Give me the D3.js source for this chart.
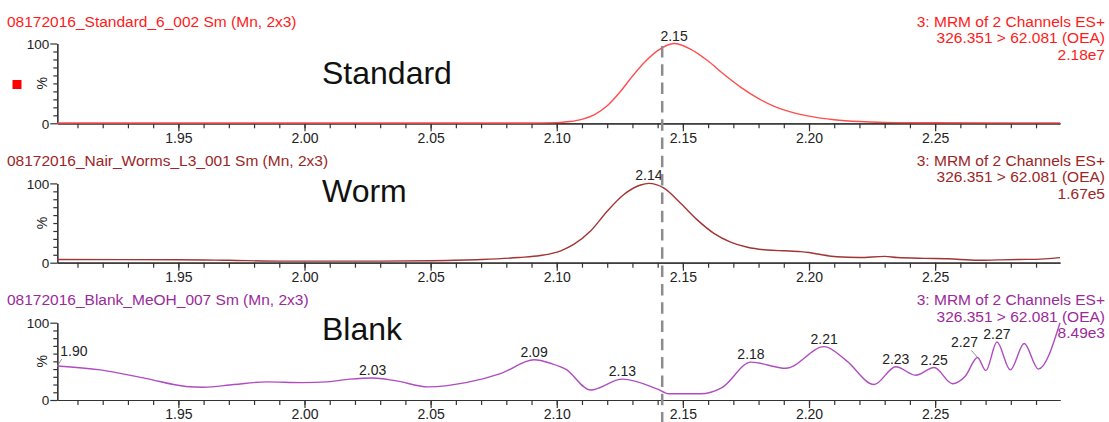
<!DOCTYPE html>
<html>
<head>
<meta charset="utf-8">
<script src="https://cdn.jsdelivr.net/npm/d3@7"></script>
<style>
  body { margin: 0; background: #fff; }
  svg { display: block; font-family: "Liberation Sans", Arial, sans-serif; }
</style>
</head>
<body>
<svg id="chart" width="1109" height="422"></svg>
<script>
// retention time (min) vs relative intensity (%)
const standardPoints = [
  [1.902, 0.3], [2.00, 0.3], [2.09, 0.4], [2.10, 0.9], [2.105, 2.2], [2.11, 5],
  [2.115, 11], [2.12, 22], [2.125, 39], [2.13, 59], [2.135, 77], [2.14, 91],
  [2.1465, 100], [2.153, 93], [2.16, 78], [2.166, 62], [2.173, 45], [2.18, 31],
  [2.186, 21.5], [2.193, 14], [2.20, 9], [2.21, 4.5], [2.22, 2.2], [2.23, 1.2],
  [2.25, 0.6], [2.2995, 0.5]
];
const wormPoints = [
  [1.902, 4], [1.95, 3.8], [1.97, 3], [1.99, 2], [2.03, 2], [2.05, 2.5], [2.07, 4],
  [2.085, 6.5], [2.0935, 9], [2.1016, 15], [2.1067, 23], [2.1134, 40], [2.12, 65],
  [2.1266, 86], [2.1332, 98], [2.1365, 100], [2.1425, 94], [2.1491, 75], [2.1557, 54],
  [2.1623, 37], [2.1689, 26], [2.1756, 19.5], [2.1835, 16], [2.19, 15], [2.1967, 14],
  [2.20, 12.8], [2.205, 10], [2.211, 7.5], [2.22, 6.5], [2.23, 8], [2.235, 6.5],
  [2.246, 5.5], [2.255, 5], [2.267, 3], [2.275, 3.5], [2.283, 4], [2.292, 4.5],
  [2.2995, 6.4]
];
const blankPoints = [
  [1.902, 44], [1.919, 39], [1.937, 28], [1.953, 17.5], [1.960, 16.5], [1.972, 20],
  [1.985, 23.5], [1.999, 22.5], [2.009, 23.5], [2.018, 27], [2.027, 28.5], [2.036, 25],
  [2.049, 17], [2.064, 22.5], [2.078, 34.5], [2.091, 52], [2.098, 47], [2.1035, 40],
  [2.1134, 13], [2.126, 27], [2.140, 14], [2.1444, 8], [2.157, 8], [2.1655, 16],
  [2.177, 49], [2.1908, 41], [2.206, 69], [2.2148, 51], [2.2258, 20], [2.2344, 43],
  [2.2423, 32], [2.2496, 42], [2.2569, 21], [2.262, 31], [2.2668, 55], [2.2701, 38],
  [2.2745, 75], [2.2798, 39], [2.2853, 73], [2.2909, 40], [2.2995, 100]
];

const standardPeaks = [2.1465];
const standardPeakLabels = ["2.15"];
const wormPeaks = [2.1365];
const wormPeakLabels = ["2.14"];
const blankPeaks = [1.902, 2.027, 2.091, 2.126, 2.177, 2.206, 2.2344, 2.2496, 2.2668, 2.2745];
const blankPeakLabels = ["1.90", "2.03", "2.09", "2.13", "2.18", "2.21", "2.23", "2.25", "2.27", "2.27"];

const sampleNames = [
  "08172016_Standard_6_002 Sm (Mn, 2x3)",
  "08172016_Nair_Worms_L3_001 Sm (Mn, 2x3)",
  "08172016_Blank_MeOH_007 Sm (Mn, 2x3)"
];
const channelText = ["3: MRM of 2 Channels ES+", "326.351 > 62.081 (OEA)"];
const intensities = ["2.18e7", "1.67e5", "8.49e3"];
const panelTitles = ["Standard", "Worm", "Blank"];

const xMajorTicks = [1.95, 2.00, 2.05, 2.10, 2.15, 2.20, 2.25];
const xMinorTicks = d3.range(191, 230).map(d => d / 100);
const yMajorTicks = [0, 100];
const yMinorTicks = [10, 20, 30, 40, 50, 60, 70, 80, 90];
const markerTime = 2.1418;

const svg = d3.select("#chart");
svg.append("rect").attr("width", 1109).attr("height", 422).attr("fill", "#fff");

const x = d3.scaleLinear().domain([1.902, 2.2995]).range([57.3, 1060]);

const panels = [
  { data: standardPoints, peaks: standardPeaks, labels: standardPeakLabels,
    text: "#ff1a1a", line: "#ff4d4d", head: 26.5, top: 43.5, base: 123.3, titleY: 83.5 },
  { data: wormPoints, peaks: wormPeaks, labels: wormPeakLabels,
    text: "#9b2626", line: "#a33434", head: 165.5, top: 183.4, base: 262.7, titleY: 202 },
  { data: blankPoints, peaks: blankPeaks, labels: blankPeakLabels,
    text: "#9a2a9a", line: "#b04cc2", head: 305, top: 322.7, base: 400, titleY: 340 }
];

panels.forEach((p, i) => {
  const y = d3.scaleLinear().domain([0, 100]).range([p.base, p.top]);
  const g = svg.append("g");

  // headers
  g.append("text").attr("x", 7).attr("y", p.head)
    .attr("font-size", 15.5).attr("fill", p.text).text(sampleNames[i]);
  const right = [channelText[0], channelText[1], intensities[i]];
  right.forEach((t, k) => {
    g.append("text").attr("x", 1105).attr("y", p.head + k * 16.7)
      .attr("text-anchor", "end").attr("font-size", 15.5).attr("fill", p.text).text(t);
  });

  // axes
  const xMinor = g.append("g").attr("transform", `translate(0,${p.base})`)
    .call(d3.axisBottom(x).tickValues(xMinorTicks).tickSize(5).tickSizeOuter(0).tickFormat(""));
  const xMajor = g.append("g").attr("transform", `translate(0,${p.base})`)
    .call(d3.axisBottom(x).tickValues(xMajorTicks).tickSize(8).tickSizeOuter(0)
      .tickPadding(1.5).tickFormat(d3.format(".2f")));
  const yMinor = g.append("g").attr("transform", `translate(${x.range()[0]},0)`)
    .call(d3.axisLeft(y).tickValues(yMinorTicks).tickSize(4).tickSizeOuter(0).tickFormat(""));
  const yMajor = g.append("g").attr("transform", `translate(${x.range()[0]},0)`)
    .call(d3.axisLeft(y).tickValues(yMajorTicks).tickSize(7).tickSizeOuter(0).tickPadding(1));
  [xMinor, xMajor, yMinor, yMajor].forEach(a => {
    a.selectAll("path, line").attr("stroke", "#333").attr("stroke-width", 1.2);
    a.selectAll("text").attr("fill", "#222").attr("font-family", "Liberation Sans, Arial, sans-serif");
  });
  xMajor.selectAll("text").attr("font-size", 14);
  yMajor.selectAll("text").attr("font-size", 13.5).attr("dy", "0.36em");

  g.append("text")
    .attr("transform", `translate(47,${(p.top + p.base) / 2}) rotate(-90)`)
    .attr("text-anchor", "middle").attr("font-size", 14).attr("fill", "#222").text("%");

  // trace
  const line = d3.line().x(d => x(d[0])).y(d => y(d[1])).curve(d3.curveMonotoneX);
  g.append("path").datum(p.data).attr("d", line)
    .attr("fill", "none").attr("stroke", p.line).attr("stroke-width", 1.4);

  // peak labels
  p.peaks.forEach((t, k) => {
    const pt = p.data.reduce((a, b) => Math.abs(b[0] - t) < Math.abs(a[0] - t) ? b : a);
    const px = x(pt[0]), py = y(pt[1]);
    let lx = px, ly = py - 3, anchor = "middle";
    if (i === 2 && k === 0) { lx = px + 3; ly = py - 10; anchor = "start"; }
    if (i === 2 && k === 8) { lx = px - 13; ly = py - 10; }
    if (lx !== px) {
      g.append("line").attr("x1", px).attr("y1", py)
        .attr("x2", k === 0 ? px + 4.5 : px - 6).attr("y2", py - 7)
        .attr("stroke", "#777").attr("stroke-width", 0.8);
    }
    g.append("text").attr("x", lx).attr("y", ly).attr("text-anchor", anchor)
      .attr("font-size", 14).attr("fill", "#222").text(p.labels[k]);
  });

  g.append("text").attr("x", 322).attr("y", p.titleY)
    .attr("font-size", 32).attr("fill", "#111").text(panelTitles[i]);
});

// legend swatch beside the first trace
svg.append("rect").attr("x", 12.5).attr("y", 80).attr("width", 9).attr("height", 9).attr("fill", "#ff0000");

// retention-time marker through all traces
svg.append("line")
  .attr("x1", x(markerTime)).attr("x2", x(markerTime))
  .attr("y1", 46).attr("y2", 422)
  .attr("stroke", "#8c8c8c").attr("stroke-width", 2.5)
  .attr("stroke-dasharray", "11.5,6.8");
</script>
</body>
</html>
